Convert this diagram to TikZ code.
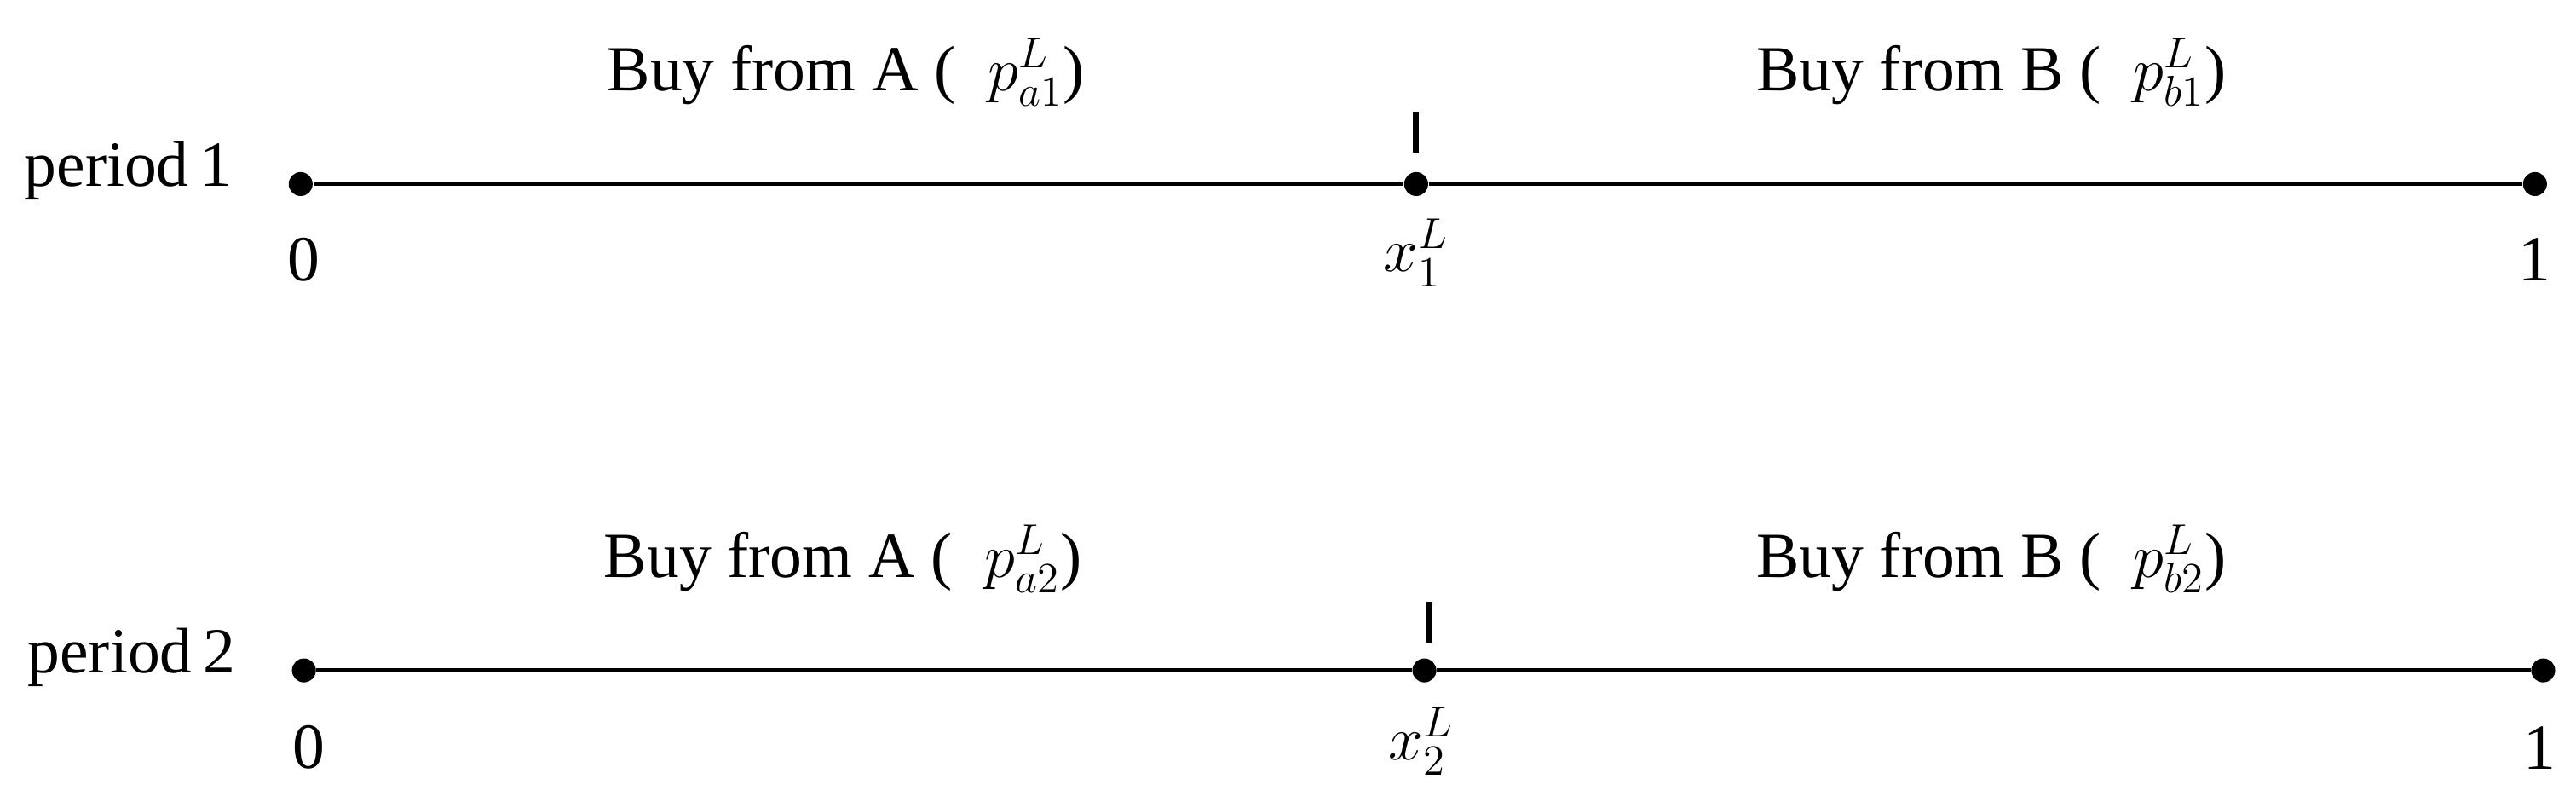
\documentclass[tikz,border=0pt]{standalone}
\usepackage{fontspec}
\setmainfont{Liberation Serif}
\begin{document}
\begin{tikzpicture}[x=0.01928cm,y=-0.01928cm,
  lab/.style={font=\fontsize{21.5}{24}\selectfont,inner sep=0pt},
  dot/.style={circle,fill=black,inner sep=0pt,minimum size=8pt},
  axis/.style={line width=1.4pt}]
\useasboundingbox (0,0) rectangle (1568,488);
% period 1
\node[lab] (p1) at (78,104) {period\,1};
\node[dot] (a0) at (183,112) {};
\node[dot] (am) at (862,112) {};
\node[dot] (a1) at (1543,112) {};
\draw[axis] (a0) -- (am) -- (a1);
\coordinate (t1a) at (862,68); \coordinate (t1b) at (862,93);
\draw[axis,line width=2pt] (t1a) -- (t1b);
\node[lab] (l0a) at (185,158) {0};
\node[lab] (lxa) at (862,154) {$x_1^L$};
\node[lab] (l1a) at (1543,158) {1};
\node[lab] (ba) at (515,44) {Buy from A (\ \ $p_{a1}^L$)};
\node[lab] (bb) at (1212,44) {Buy from B (\ \ $p_{b1}^L$)};
% period 2
\node[lab] (p2) at (80,400) {period\,2};
\node[dot] (b0) at (185,408) {};
\node[dot] (bm) at (867,408) {};
\node[dot] (b1) at (1548,408) {};
\draw[axis] (b0) -- (bm) -- (b1);
\coordinate (t2a) at (870,366); \coordinate (t2b) at (870,391);
\draw[axis,line width=2pt] (t2a) -- (t2b);
\node[lab] (l0b) at (188,455) {0};
\node[lab] (lxb) at (865,451) {$x_2^L$};
\node[lab] (l1b) at (1546,455) {1};
\node[lab] (ca) at (513,340) {Buy from A (\ \ $p_{a2}^L$)};
\node[lab] (cb) at (1212,340) {Buy from B (\ \ $p_{b2}^L$)};
\end{tikzpicture}
\end{document}
